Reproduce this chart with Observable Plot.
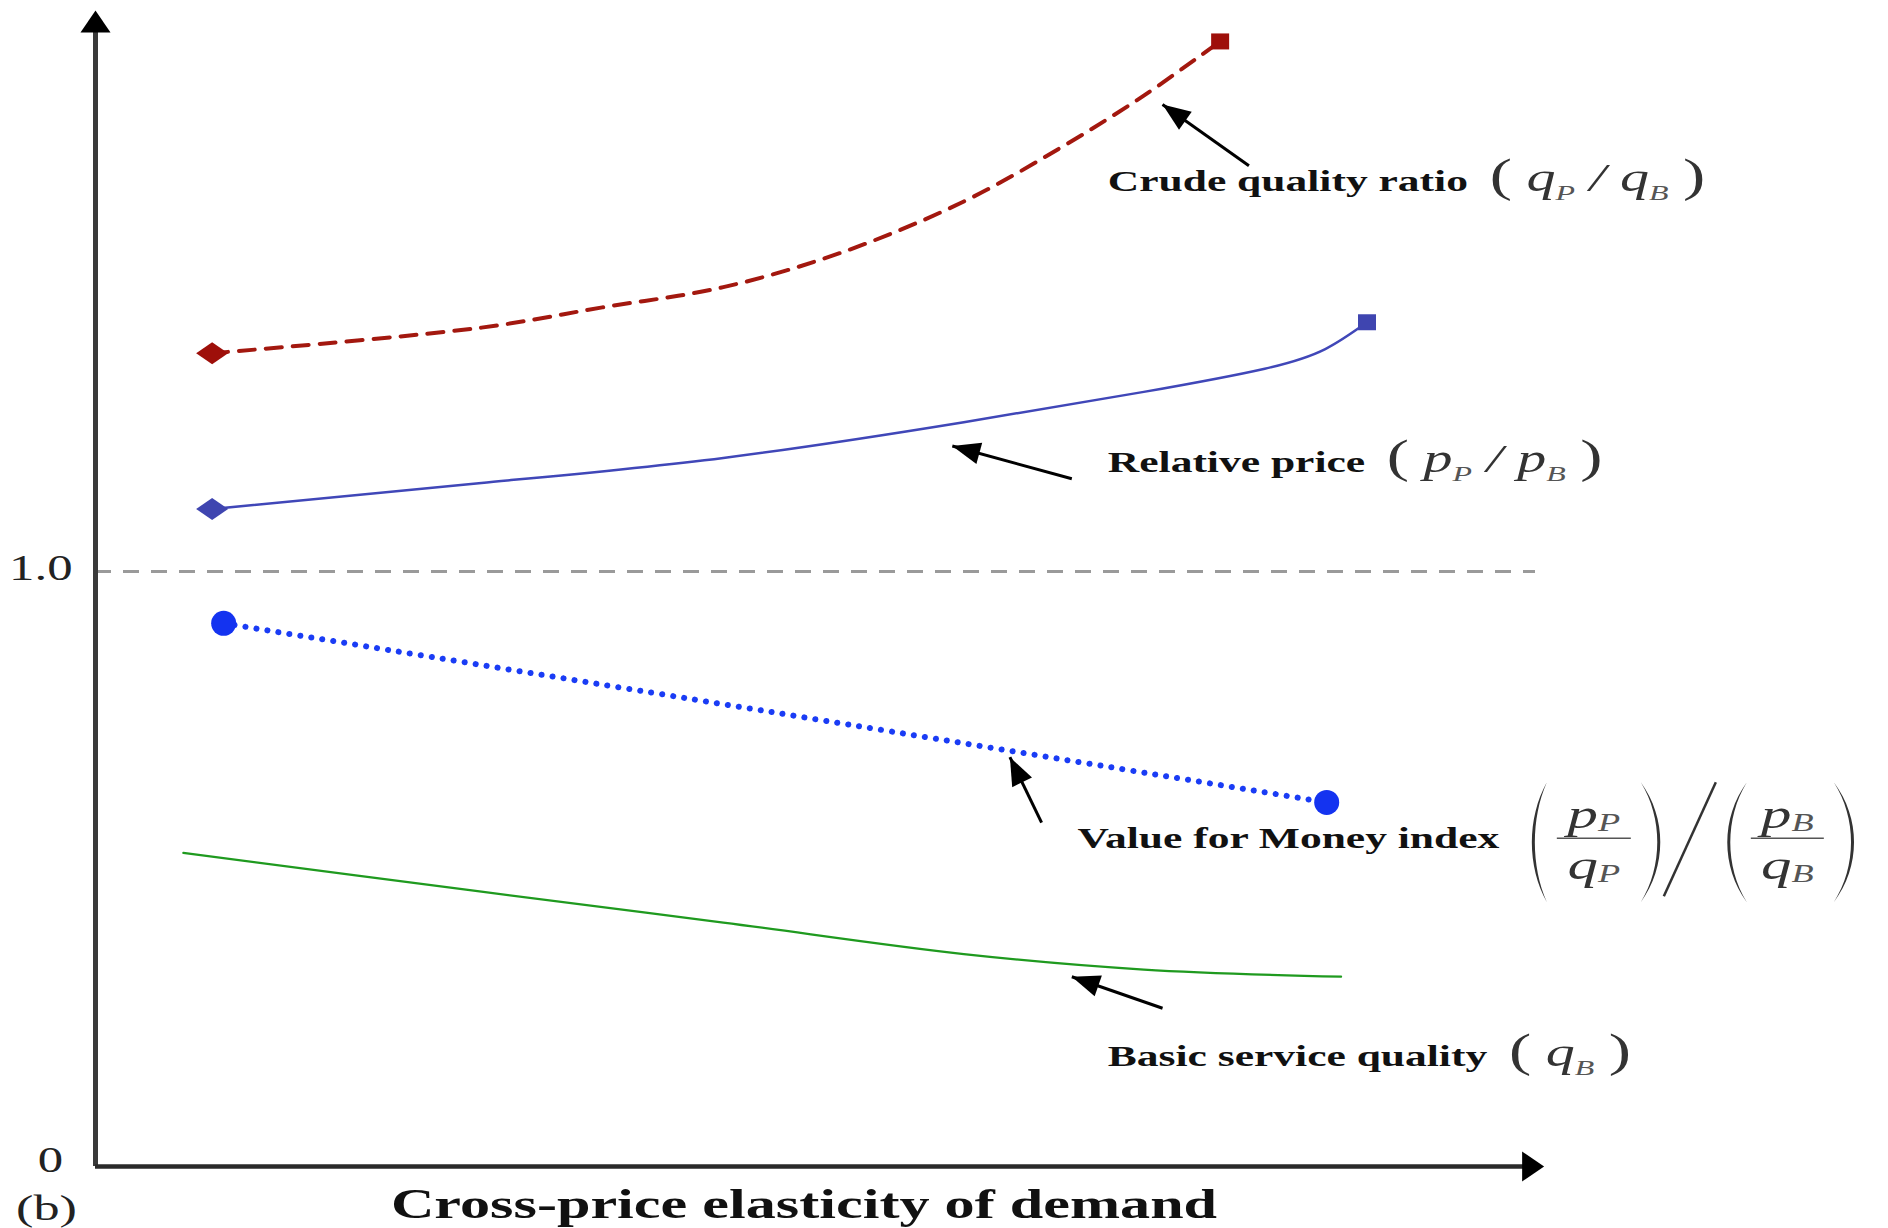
<!DOCTYPE html>
<html><head><meta charset="utf-8">
<script src="https://cdn.jsdelivr.net/npm/d3@7"></script>
<script src="https://cdn.jsdelivr.net/npm/@observablehq/plot@0.6"></script>
<style>body{margin:0;background:#fff} svg{display:block}</style>
</head><body><div id="chart"></div>
<script>
// ---------- data (x in arbitrary units 0–100) ----------
const crudeX = [8.1, 26.8, 35.2, 43.6, 51.9, 60.3, 67.0, 72.8, 78.1];
const crudeY = [1.367, 1.410, 1.444, 1.478, 1.537, 1.622, 1.712, 1.800, 1.891];
const priceX = [8.1, 26.8, 43.6, 60.3, 72.8, 81.2, 85.4, 88.3];
const priceY = [1.105, 1.149, 1.191, 1.251, 1.302, 1.341, 1.374, 1.419];
const vfmX = [8.9, 46.9, 85.5];
const vfmY = [0.913, 0.764, 0.612];
const basicX = [6.1, 26.8, 43.6, 60.3, 72.8, 86.5];
const basicY = [0.527, 0.462, 0.410, 0.357, 0.331, 0.319];

const labelNames = ["Crude quality ratio", "Relative price", "Value for Money index", "Basic service quality"];
const labelMath = ["( q_P / q_B )", "( p_P / p_B )", "", "( q_B )"];
const labelX = [70.3, 70.3, 68.2, 70.3];
const labelY = [1.656, 1.183, 0.551, 0.185];
const arrowX1 = [80.1, 67.8, 65.7, 74.1];
const arrowY1 = [1.682, 1.156, 0.578, 0.266];
const arrowX2 = [74.1, 59.5, 63.5, 67.8];
const arrowY2 = [1.785, 1.211, 0.688, 0.319];

const tickValues = [0, 1];
const tickLabels = ["0", "1.0"];
const axisTitle = "Cross-price elasticity of demand";
const panelLabel = "(b)";

// ---------- layout ----------
const W = 1888, H = 1228;
const M = {top: 10, right: 353, bottom: 62, left: 95};
const xDomain = [0, 100], yDomain = [0, 1.943];
const xEnd = 100.6;
const xs = d3.scaleLinear(xDomain, [M.left, W - M.right]);
const ys = d3.scaleLinear(yDomain, [H - M.bottom, M.top]);

const rows = (X, Y) => X.map((x, i) => ({x, y: Y[i]}));
const crude = rows(crudeX, crudeY), price = rows(priceX, priceY), vfm = rows(vfmX, vfmY), basic = rows(basicX, basicY);
const first = a => [a[0]], last = a => [a[a.length - 1]];

const arrows = arrowX1.map((x1, i) => {
  const x2 = arrowX2[i], y1 = arrowY1[i], y2 = arrowY2[i];
  const dx = xs(x2) - xs(x1), dy = ys(y2) - ys(y1);
  return {x1, y1, x2, y2, rot: Math.atan2(dx, -dy) * 180 / Math.PI};
});
const labels = labelNames.map((name, i) => ({name, x: labelX[i], y: labelY[i]}));

// custom symbols
const wideDiamond = {draw(c) { c.moveTo(-16, 0); c.lineTo(0, -11); c.lineTo(16, 0); c.lineTo(0, 11); c.closePath(); }};
const wideSquare = {draw(c) { c.moveTo(-9, -8); c.lineTo(9, -8); c.lineTo(9, 8); c.lineTo(-9, 8); c.closePath(); }};
const axisHead = {draw(c) { c.moveTo(0, 0); c.lineTo(15, 22); c.lineTo(-15, 22); c.closePath(); }};
const annHead = {draw(c) { c.moveTo(0, 0); c.lineTo(11, 28); c.lineTo(-11, 28); c.closePath(); }};

const serif = "Liberation Serif, Times New Roman, serif";

const chart = Plot.plot({
  width: W, height: H,
  marginTop: M.top, marginRight: M.right, marginBottom: M.bottom, marginLeft: M.left,
  x: {domain: xDomain, axis: null},
  y: {domain: yDomain, axis: null},
  style: {background: "#fff", overflow: "visible"},
  marks: [
    Plot.ruleY([1], {x1: 0, x2: 100, stroke: "#9a9a9a", strokeWidth: 3, strokeDasharray: "16,12"}),
    Plot.ruleX([0], {y1: 0, y2: yDomain[1] - 0.02, stroke: "#3a3a3a", strokeWidth: 5}),
    Plot.ruleY([0], {x1: 0, x2: xEnd - 1, stroke: "#2a2a2a", strokeWidth: 4.5}),
    Plot.dot([{x: 0, y: yDomain[1]}], {x: "x", y: "y", symbol: axisHead, r: 10, fill: "#000", stroke: "none"}),
    Plot.dot([{x: xEnd, y: 0}], {x: "x", y: "y", symbol: axisHead, r: 10, rotate: 90, fill: "#000", stroke: "none"}),
    Plot.line(crude, {x: "x", y: "y", curve: "catmull-rom", stroke: "#a3180f", strokeWidth: 4, strokeDasharray: "16,11"}),
    Plot.line(price, {x: "x", y: "y", curve: "natural", stroke: "#4047b8", strokeWidth: 2.5}),
    Plot.line(vfm, {x: "x", y: "y", curve: "catmull-rom", stroke: "#1a3cf5", strokeWidth: 6, strokeDasharray: "0.1,11", strokeLinecap: "round"}),
    Plot.line(basic, {x: "x", y: "y", curve: "catmull-rom", stroke: "#1f9a1f", strokeWidth: 2.2}),
    Plot.dot(first(crude), {x: "x", y: "y", symbol: wideDiamond, r: 10, fill: "#9e0f0a", stroke: "none"}),
    Plot.dot(last(crude), {x: "x", y: "y", symbol: wideSquare, r: 10, fill: "#9e0f0a", stroke: "none"}),
    Plot.dot(first(price), {x: "x", y: "y", symbol: wideDiamond, r: 10, fill: "#3f45b0", stroke: "none"}),
    Plot.dot(last(price), {x: "x", y: "y", symbol: wideSquare, r: 10, fill: "#3f45b0", stroke: "none"}),
    Plot.dot([vfm[0], vfm[vfm.length - 1]], {x: "x", y: "y", r: 12.5, fill: "#1433f0", stroke: "none"}),
    Plot.link(arrows, {x1: "x1", y1: "y1", x2: "x2", y2: "y2", stroke: "#000", strokeWidth: 3}),
    Plot.dot(arrows, {x: "x2", y: "y2", rotate: "rot", symbol: annHead, r: 10, fill: "#000", stroke: "none"}),
    Plot.text(labels, {x: "x", y: "y", text: "name", textAnchor: "start", fontFamily: serif, fontWeight: "bold", fontSize: 30, fill: "#111", ariaDescription: "series-label"}),
    Plot.text([tickValues[1]], {x: 0, y: d => d, text: () => tickLabels[1], textAnchor: "end", dx: -23, dy: -3, fontFamily: serif, fontSize: 35, fill: "#222", ariaDescription: "stretch-text"}),
    Plot.text([tickValues[0]], {x: 0, y: d => d, text: () => tickLabels[0], textAnchor: "middle", dx: -45, dy: -6, fontFamily: serif, fontSize: 35, fill: "#222", ariaDescription: "stretch-text"}),
    Plot.text([axisTitle], {x: 49.2, y: -0.064, text: d => d, fontFamily: serif, fontWeight: "bold", fontSize: 41.5, fill: "#111", ariaDescription: "stretch-text"}),
    Plot.text([panelLabel], {x: -3.4, y: -0.07, text: d => d, fontFamily: serif, fontSize: 36, fill: "#222", ariaDescription: "stretch-text"})
  ]
});
document.getElementById("chart").append(chart);

// ---------- text finishing: math notation and the horizontal stretch of the original ----------
const STRETCH = 1.45;
function stretch(node) {
  const L = node.getComputedTextLength();
  const a = getComputedStyle(node).textAnchor;
  const w = L * STRETCH;
  node.setAttribute("textLength", w);
  node.setAttribute("lengthAdjust", "spacingAndGlyphs");
  node.style.textAnchor = "start";
  const off = a === "end" ? -w : a === "middle" ? -w / 2 : 0;
  node.setAttribute("x", (parseFloat(node.getAttribute("x")) || 0) + off);
  return w;
}
function appendMath(t, s, big = 46, base = 40, sub = 22, shift = 9) {
  let shifted = false;
  for (let k = 0; k < s.length; k++) {
    const c = s[k];
    if (c === "_") {
      t.append("tspan").attr("dy", shift).attr("font-size", sub).attr("font-style", "italic")
        .attr("font-weight", "normal").attr("fill", "#555").text(s[++k]);
      shifted = true; continue;
    }
    const ts = t.append("tspan").attr("font-weight", "normal").attr("fill", "#333");
    if (shifted) { ts.attr("dy", -shift); shifted = false; }
    if (c === "(" || c === ")") ts.attr("font-size", big).attr("font-style", "normal");
    else ts.attr("font-size", base).attr("font-style", "italic");
    ts.text(c);
  }
}
const svg = d3.select(chart);
svg.selectAll('g[aria-description="stretch-text"] text').each(function() { stretch(this); });

let vfmEnd = null;
svg.selectAll('g[aria-description="series-label"] text').each(function(d, j) {
  const i = typeof d === "number" ? d : j;
  const t = d3.select(this).style("white-space", "pre");
  const name = t.text();
  t.text(null);
  t.append("tspan").text(name);
  if (labelMath[i]) { t.append("tspan").attr("font-weight", "normal").text("  "); appendMath(t, labelMath[i]); }
  const w = stretch(this);
  if (!labelMath[i]) vfmEnd = {x: xs(labels[i].x) + w, y: ys(labels[i].y)};
});

// Value-for-money fraction  (p_P / q_P) / (p_B / q_B)
if (vfmEnd) {
  const g = svg.append("g").attr("transform", `translate(${vfmEnd.x + 26},${vfmEnd.y})`);
  const top = -56, bot = 64, h = bot - top;
  const paren = (xa, xb, left) => {
    const tip = left ? xb : xa, bulge = left ? xa : xb, inner = left ? xa + 4 : xb - 4;
    return `M${tip},${top} C${bulge},${top + 0.3 * h} ${bulge},${bot - 0.3 * h} ${tip},${bot} C${inner},${bot - 0.3 * h} ${inner},${top + 0.3 * h} ${tip},${top} Z`;
  };
  const frac = (x0, x1, num, den) => {
    const cx = (x0 + x1) / 2;
    g.append("line").attr("x1", x0).attr("x2", x1).attr("y1", 0).attr("y2", 0).attr("stroke", "#555").attr("stroke-width", 1.6);
    [[num, -10], [den, 41]].forEach(([s, y]) => {
      const t = g.append("text").attr("x", cx).attr("y", y).attr("text-anchor", "middle")
        .attr("font-family", serif).style("white-space", "pre");
      appendMath(t, s, 42, 42, 25, 3);
      stretch(t.node());
    });
  };
  g.append("path").attr("d", paren(2, 22, true)).attr("fill", "#333");
  frac(32, 106, "p_P", "q_P");
  g.append("path").attr("d", paren(116, 142, false)).attr("fill", "#333");
  g.append("line").attr("x1", 139).attr("y1", 58).attr("x2", 191).attr("y2", -56).attr("stroke", "#333").attr("stroke-width", 2.5);
  g.append("path").attr("d", paren(196, 222, true)).attr("fill", "#333");
  frac(226, 299, "p_B", "q_B");
  g.append("path").attr("d", paren(309, 336, false)).attr("fill", "#333");
}
</script>
</body></html>
